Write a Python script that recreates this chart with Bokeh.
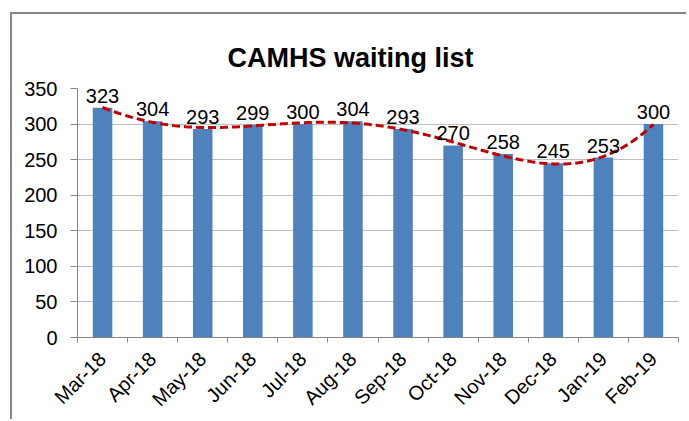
import numpy as np
from bokeh.plotting import figure
from bokeh.models import FixedTicker, ColumnDataSource, Range1d
from bokeh.core.properties import value
from bokeh.embed import file_html
from bokeh.resources import INLINE

months = ["Mar-18", "Apr-18", "May-18", "Jun-18", "Jul-18", "Aug-18",
          "Sep-18", "Oct-18", "Nov-18", "Dec-18", "Jan-19", "Feb-19"]
waiting = [323, 304, 293, 299, 300, 304, 293, 270, 258, 245, 253, 300]
y_ticks = [0, 50, 100, 150, 200, 250, 300, 350]
title_text = "CAMHS waiting list"

FONT = "Liberation Sans"
n = len(months)
centers = [i + 0.5 for i in range(n)]

p = figure(width=676, height=407, output_backend="svg", toolbar_location=None,
           x_range=Range1d(0, n), y_range=Range1d(0, 350),
           min_border_left=65, min_border_right=10, min_border_top=74, min_border_bottom=83)
p.outline_line_color = None
p.background_fill_color = "white"
p.border_fill_color = "white"

p.title.text = title_text
p.title.align = "left"
p.title.offset = 150
p.title.text_font = FONT
p.title.text_font_size = "27px"
p.title.text_font_style = "bold"
p.title.text_color = "black"
p.title.standoff = 32

src = ColumnDataSource(dict(x=centers, top=waiting, lbl=[str(v) for v in waiting]))
p.vbar(x="x", top="top", width=0.39, bottom=0, source=src, fill_color="#4F81BD", line_color=None)

# polynomial trendline (order 6) fitted to the data, like the spreadsheet trendline
xs = np.arange(1, n + 1)
coef = np.polyfit(xs, np.array(waiting, dtype=float), 6)
xf = np.linspace(1, n, 200)
yf = np.polyval(coef, xf)
p.line(xf - 0.5, yf, line_color="#C00000", line_width=3, line_dash="8 4")

p.text(x="x", y="top", text="lbl", source=src, text_align="center", text_baseline="alphabetic",
       y_offset=-12, text_font=value(FONT), text_font_size="20px", text_color="black")

xa = p.xaxis[0]
xa.ticker = FixedTicker(ticks=centers, minor_ticks=list(range(n + 1)))
xa.major_label_overrides = {c: m for c, m in zip(centers, months)}
xa.major_label_orientation = np.pi / 4
xa.major_tick_out = 0
xa.major_tick_in = 0
xa.minor_tick_out = 5
xa.minor_tick_in = 0
xa.minor_tick_line_color = "#868686"
xa.axis_line_color = "#868686"
xa.major_label_text_font = FONT
xa.major_label_text_font_size = "20px"
xa.major_label_text_color = "black"
xa.major_label_standoff = 13

ya = p.yaxis[0]
ya.ticker = FixedTicker(ticks=y_ticks)
ya.major_tick_out = 7
ya.major_tick_in = 0
ya.minor_tick_line_color = None
ya.major_tick_line_color = "#868686"
ya.axis_line_color = "#868686"
ya.major_label_text_font = FONT
ya.major_label_text_font_size = "20px"
ya.major_label_text_color = "black"
ya.major_label_standoff = 13

p.xgrid.grid_line_color = None
p.ygrid.grid_line_color = "#BFBFBF"
p.ygrid.ticker = FixedTicker(ticks=y_ticks)

p.margin = (14, 0, 0, 12)
p.styles = {"box-shadow": "-2px -2px 0 0 #868686"}

open("out.html", "w").write(file_html(p, INLINE))
